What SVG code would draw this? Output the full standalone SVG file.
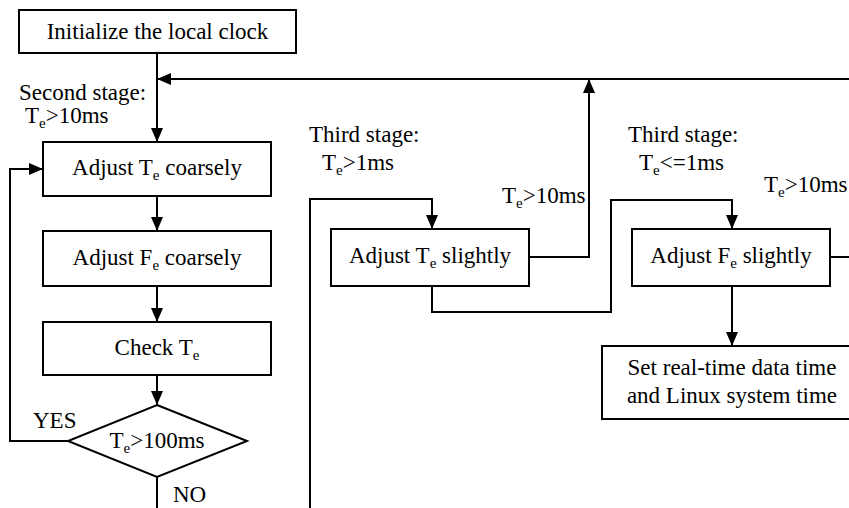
<svg xmlns="http://www.w3.org/2000/svg" width="849" height="508" viewBox="0 0 849 508">
<style>
.box{fill:#fff;stroke:#000;stroke-width:2}
.ln{fill:none;stroke:#000;stroke-width:2}
.arr{marker-end:url(#ah)}
text{font-family:"Liberation Serif","Times New Roman",serif;font-size:23px;fill:#000}
.c{text-anchor:middle}
.s{font-size:15px}
</style>
<defs>
<marker id="ah" viewBox="0 0 14 12" refX="14" refY="6" markerWidth="14" markerHeight="12" markerUnits="userSpaceOnUse" orient="auto">
<path d="M0,0 L14,6 L0,12 z" fill="#000"/>
</marker>
</defs>
<rect width="849" height="508" fill="#fff"/>
<g id="connectors">
<path class="ln arr" d="M157,53 V142"/>
<path class="ln arr" d="M849,79 H157"/>
<path class="ln arr" d="M157,196 V231"/>
<path class="ln arr" d="M157,286 V322"/>
<path class="ln arr" d="M157,375 V405"/>
<path class="ln arr" d="M68,441 H10 V169 H43"/>
<path class="ln" d="M157,477 V508"/>
<path class="ln arr" d="M310,508 V199 H432 V229"/>
<path class="ln arr" d="M529,257 H589 V79"/>
<path class="ln arr" d="M432,286 V312 H611 V200 H732 V229"/>
<path class="ln" d="M830,257 H849"/>
<path class="ln arr" d="M732,286 V346"/>
</g>
<g id="n_init">
<rect class="box" x="19" y="10" width="277" height="43"/>
<text class="c" x="157.5" y="39">Initialize the local clock</text>
</g>
<g id="n_adj_te_coarse">
<rect class="box" x="43" y="142" width="228" height="54"/>
<text class="c" x="157" y="175">Adjust T<tspan class="s" dy="5">e</tspan><tspan dy="-5"> coarsely</tspan></text>
</g>
<g id="n_adj_fe_coarse">
<rect class="box" x="43" y="231" width="228" height="55"/>
<text class="c" x="157" y="265">Adjust F<tspan class="s" dy="5">e</tspan><tspan dy="-5"> coarsely</tspan></text>
</g>
<g id="n_check">
<rect class="box" x="43" y="322" width="228" height="53"/>
<text class="c" x="157" y="355">Check T<tspan class="s" dy="5">e</tspan></text>
</g>
<g id="n_decision">
<polygon class="box" points="157,405 247,441 157,477 68,441"/>
<text class="c" x="157" y="448">T<tspan class="s" dy="5">e</tspan><tspan dy="-5">&gt;100ms</tspan></text>
</g>
<g id="n_adj_te_slight">
<rect class="box" x="331" y="229" width="198" height="57"/>
<text class="c" x="430" y="263">Adjust T<tspan class="s" dy="5">e</tspan><tspan dy="-5"> slightly</tspan></text>
</g>
<g id="n_adj_fe_slight">
<rect class="box" x="632" y="229" width="198" height="57"/>
<text class="c" x="731" y="263">Adjust F<tspan class="s" dy="5">e</tspan><tspan dy="-5"> slightly</tspan></text>
</g>
<g id="n_set">
<rect class="box" x="602" y="346" width="262" height="73"/>
<text class="c" x="732" y="375">Set real-time data time</text>
<text class="c" x="732" y="403">and Linux system time</text>
</g>
<g id="labels">
<text x="19" y="100">Second stage:</text>
<text x="25" y="123">T<tspan class="s" dy="5">e</tspan><tspan dy="-5">&gt;10ms</tspan></text>
<text x="33" y="428">YES</text>
<text x="173" y="502">NO</text>
<text x="309" y="142">Third stage:</text>
<text x="322" y="170">T<tspan class="s" dy="5">e</tspan><tspan dy="-5">&gt;1ms</tspan></text>
<text x="502" y="203">T<tspan class="s" dy="5">e</tspan><tspan dy="-5">&gt;10ms</tspan></text>
<text x="628" y="142">Third stage:</text>
<text x="639" y="170">T<tspan class="s" dy="5">e</tspan><tspan dy="-5">&lt;=1ms</tspan></text>
<text x="764" y="192">T<tspan class="s" dy="5">e</tspan><tspan dy="-5">&gt;10ms</tspan></text>
</g>
</svg>
